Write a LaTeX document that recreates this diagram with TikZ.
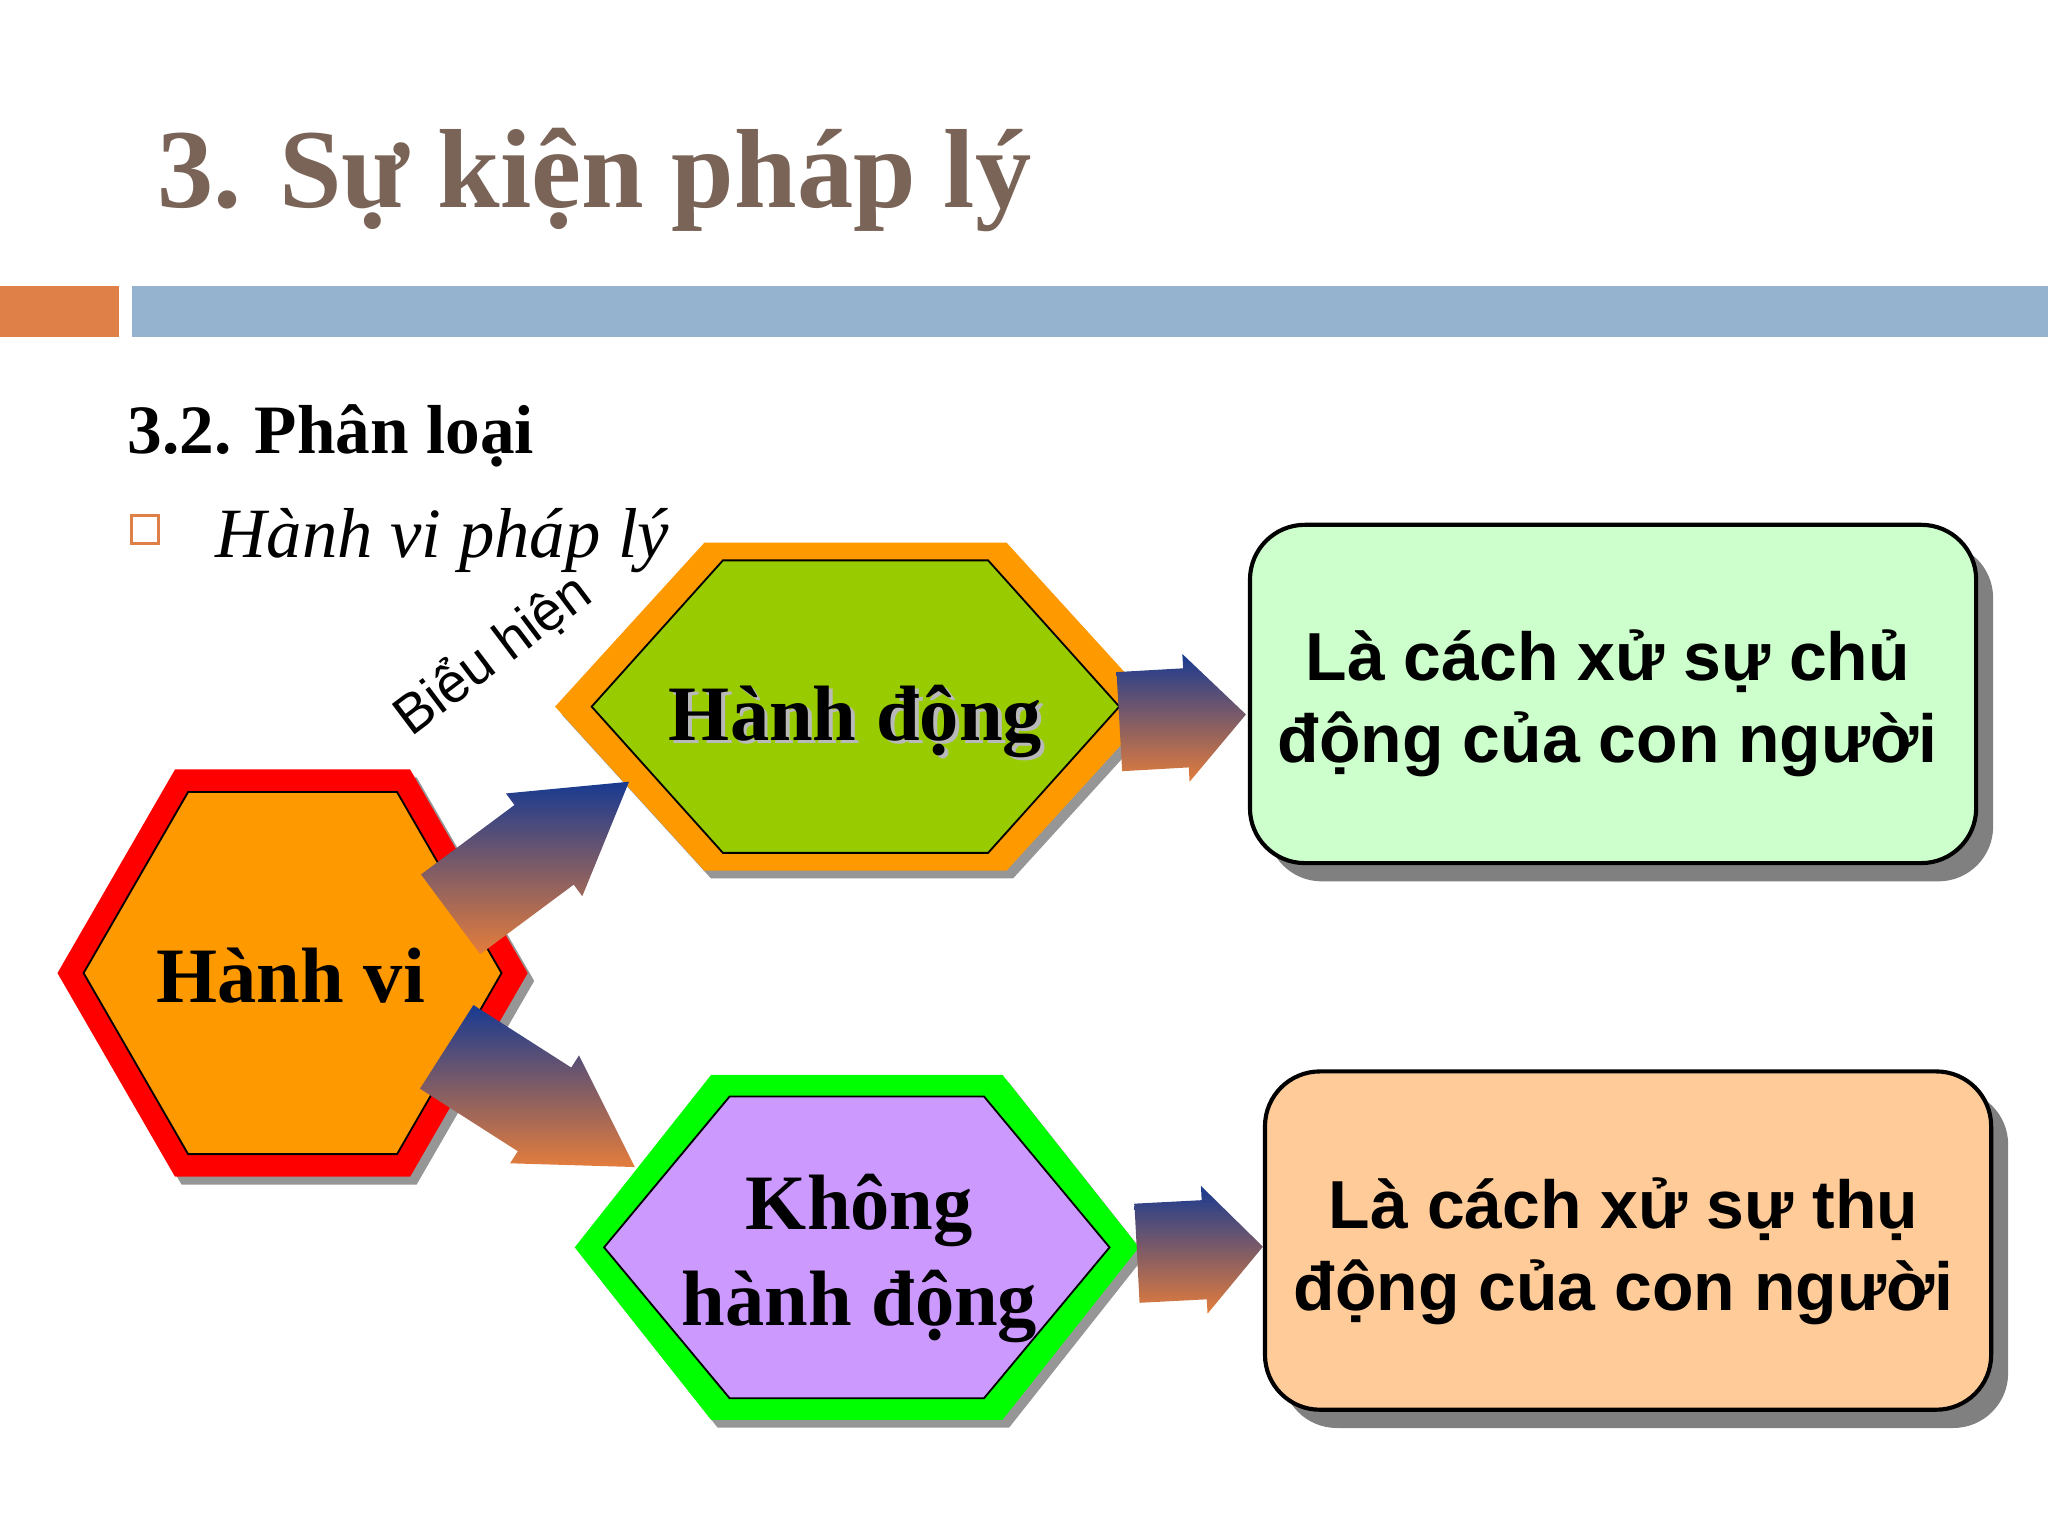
\documentclass[tikz,border=0pt]{standalone}
\usepackage{fontspec}
\setmainfont{Liberation Serif}
\newfontfamily\arialfont{Liberation Sans}
\usepackage{tikz}
\usetikzlibrary{positioning, calc, shadows}
\usepackage{xcolor}

\definecolor{titlebrown}{RGB}{122,100,88}
\definecolor{barorange}{RGB}{222,128,72}
\definecolor{barblue}{RGB}{149,179,207}
\definecolor{hexred}{RGB}{255,0,0}
\definecolor{hexorange}{RGB}{255,153,0}
\definecolor{hexlime}{RGB}{153,204,0}
\definecolor{hexgreen}{RGB}{0,255,0}
\definecolor{hexviolet}{RGB}{204,153,255}
\definecolor{boxmint}{RGB}{204,255,204}
\definecolor{boxpeach}{RGB}{255,204,153}
\definecolor{arrowblue}{RGB}{24,58,145}
\definecolor{arroworange}{RGB}{228,125,60}
\definecolor{hexshade}{RGB}{150,150,150}
\definecolor{boxshade}{RGB}{128,128,128}

% hexagon round a centre: half width, half height, half top edge
\newcommand{\hexpath}[4]{(#1) +(-#2,0) -- +(-#4,-#3) -- +(#4,-#3) -- +(#2,0) -- +(#4,#3) -- +(-#4,#3) -- cycle}

% fat shaded arrow from #1 to #2, head length #3
\newcommand{\fatarrow}[3]{%
	\coordinate (neck) at ($(#2)!#3!(#1)$);
	\path[arrowshade] ($(#1)!3.8mm!90:(#2)$) -- ($(neck)!3.8mm!90:(#2)$) -- ($(neck)!4.9mm!90:(#2)$) -- (#2)
		-- ($(neck)!4.9mm!-90:(#2)$) -- ($(neck)!3.8mm!-90:(#2)$) -- ($(#1)!3.8mm!-90:(#2)$) -- cycle;
}

\begin{document}
\begin{tikzpicture}[x=0.1mm, y=-0.1mm,
		hexshadow/.style={fill=hexshade},
		hexline/.style={draw=black, line width=0.4pt},
		hexlabel/.style={font=\bfseries\fontsize{17.1pt}{20.9pt}\selectfont, align=center, inner sep=0},
		answerbox/.style={draw=black, line width=0.9pt, rounded corners=4.2mm, minimum width=55.6mm, minimum height=25.9mm,
			drop shadow={shadow xshift=1.3mm, shadow yshift=-1.4mm, fill=boxshade, opacity=1}},
		answertext/.style={font=\arialfont\bfseries\fontsize{14.8pt}{17.8pt}\selectfont, align=center, inner sep=0},
		arrowshade/.style={top color=arrowblue, bottom color=arroworange}]
		\fill[white] (0,0) rectangle (1568,1176);
		\useasboundingbox (0,0) rectangle (1568,1176);
		
		% header
		\node[anchor=base west, inner sep=0, text=titlebrown, font=\bfseries\fontsize{24.5pt}{29pt}\selectfont] (title) at (120,158.5) {3. Sự kiện pháp lý};
		\fill[barorange] (0,219) rectangle (91,258.3);
		\fill[barblue] (101,219) rectangle (1568,258.3);
		\node[anchor=base west, inner sep=0, font=\bfseries\fontsize{15.1pt}{18pt}\selectfont] (section) at (97,347) {3.2. Phân loại};
		\node[draw=barorange, line width=0.6pt, minimum size=2.1mm, inner sep=0] (bullet) at (110.9,405.4) {};
		\node[below right=2.16mm and 4.2mm of bullet.east, anchor=base west, inner sep=0, font=\itshape\fontsize{15.4pt}{18pt}\selectfont] (kind) {Hành vi pháp lý};
		
		% hexagons
		\coordinate (hv) at (224,745);
		\coordinate (hd) at (655,541);
		\coordinate (hk) at (656,955);
		\fill[hexshadow] \hexpath{$(hv)+(5,6)$}{180}{155.9}{90};
		\fill[hexred] \hexpath{hv}{180}{155.9}{90};
		\fill[hexorange, hexline] \hexpath{hv}{160}{138.6}{80};
		\fill[hexshadow] \hexpath{$(hd)+(5,6)$}{230}{125.5}{115.7};
		\fill[hexorange] \hexpath{hd}{230}{125.5}{115.7};
		\fill[hexlime, hexline] \hexpath{hd}{202}{112}{101.5};
		\fill[hexshadow] \hexpath{$(hk)+(5,6)$}{216}{132}{111.6};
		\fill[hexgreen] \hexpath{hk}{216}{132}{111.6};
		\fill[hexviolet, hexline] \hexpath{hk}{193.5}{115.5}{97.4};
		
		\node[hexlabel, anchor=base] (hvtext) at ($(hv)+(-1.4,22.5)$) {Hành vi};
		\node[hexlabel, anchor=base, text=gray!55] (hdshade) at ($(hd)+(3,28.6)$) {Hành động};
		\node[hexlabel, anchor=base] (hdtext) at ($(hd)+(0,25.6)$) {Hành động};
		\node[hexlabel] (hktext) at ($(hk)+(2,8.6)$) {Không\\hành động};
		
		% answers
		\node[answerbox, fill=boxmint] (b1) at (1235,531.3) {};
		\node[answerbox, fill=boxpeach] (b2) at (1246.5,949.8) {};
		\node[answertext] (b1text) at ($(b1)+(-4,7.4)$) {Là cách xử sự chủ\\động của con người};
		\node[answertext] (b2text) at ($(b2)+(-3.5,8.1)$) {Là cách xử sự thụ\\động của con người};
		
		\node[rotate=37, anchor=base, inner sep=0, font=\arialfont\fontsize{12pt}{14pt}\selectfont] (shows) at (385,512) {Biểu hiện};
		
		% arrows
		\coordinate (up0) at ($(hv)+(121,-45)$);
		\coordinate (up1) at ($(hd)+(-173.4,57.5)$);
		\coordinate (dn0) at ($(hv)+(118,56.5)$);
		\coordinate (dn1) at ($(hk)+(-170,-61.5)$);
		\coordinate (ra0) at ($(hd)+(202,11.5)$);
		\coordinate (ra1) at ($(b1.west)+(-1.5,15.7)$);
		\coordinate (rb0) at ($(hk)+(214.5,4.5)$);
		\coordinate (rb1) at ($(b2.west)+(0,4.7)$);
		\fatarrow{up0}{up1}{8.1mm}
		\fatarrow{dn0}{dn1}{8.2mm}
		\fatarrow{ra0}{ra1}{4.6mm}
		\fatarrow{rb0}{rb1}{4.5mm}
		
	\end{tikzpicture}
\end{document}
